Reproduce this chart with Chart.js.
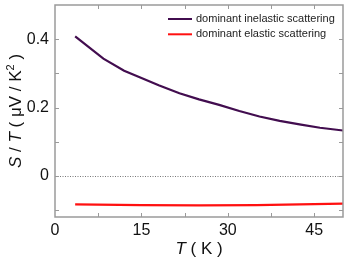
<!DOCTYPE html>
<html><head><meta charset="utf-8">
<script src="https://cdn.jsdelivr.net/npm/chart.js@4/dist/chart.umd.min.js"></script>
<style>html,body{margin:0;padding:0;background:#fff}</style>
</head><body>
<canvas id="c" width="349" height="264"></canvas>
<script>
// ---- data ----
const inelasticT = [3.5, 8.4, 12, 14.7, 18, 21.6, 25, 28.5, 32, 35.5, 39, 42.7, 46, 50];
const inelasticS = [0.408, 0.343, 0.308, 0.289, 0.265, 0.242, 0.224, 0.208, 0.190, 0.174, 0.161, 0.150, 0.141, 0.133];
const elasticT = [3.5, 15, 25, 35, 50];
const elasticS = [-0.083, -0.085, -0.086, -0.085, -0.081];
const seriesLabels = ['dominant inelastic scattering', 'dominant elastic scattering'];
const xTickValues = [0, 7.5, 15, 22.5, 30, 37.5, 45];
const xTickLabels = ['0', '', '15', '', '30', '', '45'];
const yTickValues = [-0.1, 0, 0.1, 0.2, 0.3, 0.4];
const yTickLabels = ['', '0', '', '0.2', '', '0.4'];

const FONT = '"Liberation Sans", Arial, sans-serif';
const AXIS = '#9a9a9a';

function pts(xs, ys) { return xs.map((x, i) => ({ x, y: ys[i] })); }

const decor = {
  id: 'decor',
  beforeDatasetsDraw(chart) {
    const { ctx, chartArea: a, scales: { y } } = chart;
    ctx.save();
    ctx.strokeStyle = '#555';
    ctx.lineWidth = 0.8;
    ctx.setLineDash([1, 1.5]);
    const py = Math.round(y.getPixelForValue(0)) + 0.5;
    ctx.beginPath(); ctx.moveTo(a.left, py); ctx.lineTo(a.right, py); ctx.stroke();
    ctx.restore();
  },
  afterDatasetsDraw(chart) {
    const { ctx, chartArea: a, scales: { x, y } } = chart;
    ctx.save();
    ctx.strokeStyle = AXIS;
    ctx.lineWidth = 1.5;
    ctx.strokeRect(a.left, a.top, a.right - a.left, a.bottom - a.top);
    ctx.lineWidth = 1;
    const tl = 4;
    ctx.beginPath();
    xTickValues.forEach(v => {
      const px = Math.round(x.getPixelForValue(v)) + 0.5;
      if (v === 0) return;
      ctx.moveTo(px, a.bottom); ctx.lineTo(px, a.bottom - tl);
      ctx.moveTo(px, a.top); ctx.lineTo(px, a.top + tl);
    });
    yTickValues.forEach(v => {
      const py = Math.round(y.getPixelForValue(v)) + 0.5;
      ctx.moveTo(a.left, py); ctx.lineTo(a.left + tl, py);
      ctx.moveTo(a.right, py); ctx.lineTo(a.right - tl, py);
    });
    ctx.stroke();

    // legend
    ctx.font = '11px ' + FONT;
    ctx.textBaseline = 'middle';
    ctx.fillStyle = '#222';
    chart.data.datasets.forEach((ds, i) => {
      const ly = a.top + 14 + i * 15.3;
      const lx = a.right - 175;
      ctx.strokeStyle = ds.borderColor;
      ctx.lineWidth = 2;
      ctx.beginPath(); ctx.moveTo(lx, ly); ctx.lineTo(lx + 24, ly); ctx.stroke();
      ctx.fillText(ds.label, lx + 28, ly);
    });

    // axis titles with italic variables
    const drawRich = (segs, cx, cy, rot) => {
      ctx.save();
      ctx.translate(cx, cy);
      ctx.rotate(rot);
      let total = 0;
      segs.forEach(s => { ctx.font = s.f; s.w = ctx.measureText(s.t).width; total += s.w; });
      let px = -total / 2;
      ctx.textBaseline = 'alphabetic';
      ctx.fillStyle = '#111';
      segs.forEach(s => { ctx.font = s.f; ctx.fillText(s.t, px, s.dy || 0); px += s.w; });
      ctx.restore();
    };
    const n = '17px ' + FONT, it = 'italic 17px ' + FONT, sm = '11px ' + FONT;
    drawRich([{t:'T', f:it}, {t:' ( K )', f:n}], (a.left + a.right) / 2, 254, 0);
    drawRich([{t:'S', f:it}, {t:' / ', f:n}, {t:'T', f:it}, {t:' ( \u03bcV / K', f:n}, {t:'2', f:sm, dy:-7}, {t:' )', f:n}],
      21, (a.top + a.bottom) / 2, -Math.PI / 2);
    ctx.restore();
  }
};

new Chart(document.getElementById('c'), {
  type: 'line',
  data: {
    datasets: [
      { label: seriesLabels[0], data: pts(inelasticT, inelasticS), borderColor: '#420d4f', borderWidth: 2.2, pointRadius: 0, tension: 0, fill: false },
      { label: seriesLabels[1], data: pts(elasticT, elasticS), borderColor: '#ff1010', borderWidth: 2.2, pointRadius: 0, tension: 0, fill: false }
    ]
  },
  options: {
    responsive: false,
    animation: false,
    devicePixelRatio: 1,
    layout: { padding: { top: 5, right: 6, left: 0, bottom: 0 } },
    plugins: { legend: { display: false }, tooltip: { enabled: false } },
    scales: {
      x: {
        type: 'linear', min: 0, max: 50,
        grid: { display: false, drawTicks: false },
        border: { display: false },
        afterBuildTicks: s => { s.ticks = xTickValues.map(v => ({ value: v })); },
        afterFit: s => { s.height = 47; s.paddingLeft = 0; s.paddingRight = 0; },
        ticks: { autoSkip: false, maxRotation: 0, padding: 4, color: '#111', font: { family: FONT, size: 16 },
                 callback: (v, i) => xTickLabels[i] }
      },
      y: {
        type: 'linear', min: -0.12, max: 0.5,
        grid: { display: false, drawTicks: false },
        border: { display: false },
        afterBuildTicks: s => { s.ticks = yTickValues.map(v => ({ value: v })); },
        afterFit: s => { s.width = 55; s.paddingTop = 0; s.paddingBottom = 0; },
        ticks: { autoSkip: false, padding: 6, color: '#111', font: { family: FONT, size: 16 },
                 callback: (v, i) => yTickLabels[i] }
      }
    }
  },
  plugins: [decor]
});
</script>
</body></html>
